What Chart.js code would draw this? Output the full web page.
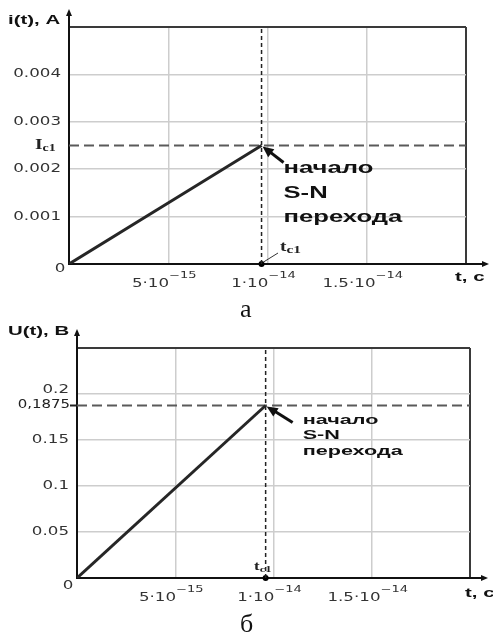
<!DOCTYPE html>
<html>
<head>
<meta charset="utf-8">
<script src="https://cdn.jsdelivr.net/npm/chart.js@4/dist/chart.umd.min.js"></script>
<style>
  body { margin: 0; background: #fff; width: 493px; height: 639px; position: relative; overflow: hidden; }
  canvas { position: absolute; left: 0; }
  #c1 { top: 0; }
  #c2 { top: 300px; }
  .cap { position: absolute; left: 240px; font-family: "Liberation Serif", serif; font-size: 26px; color: #111; line-height: 1; }
</style>
</head>
<body>
<canvas id="c1" width="493" height="300"></canvas>
<canvas id="c2" width="493" height="339"></canvas>
<div class="cap" style="top:296px">а</div>
<div class="cap" style="top:611px">б</div>
<script>
// time axis (shared)
const timeTicks = [0, 5e-15, 1e-14, 1.5e-14, 2e-14];
const timeTickBase = ['', '5·10', '1·10', '1.5·10', ''];
const timeTickExp = ['', '−15', '−14', '−14', ''];

// current, chart "а"
const currentTicks = [0, 0.001, 0.002, 0.003, 0.004, 0.005];
const currentTickLabels = ['0', '0.001', '0.002', '0.003', '0.004', ''];
const currentT = [0, 9.7e-15];
const currentI = [0, 0.0025];

// voltage, chart "б"
const voltageTicks = [0, 0.05, 0.1, 0.15, 0.2, 0.25];
const voltageTickLabels = ['0', '0.05', '0.1', '0.15', '0.2', ''];
const voltageT = [0, 9.6e-15];
const voltageU = [0, 0.1875];

const noteLines = ['начало', 'S-N', 'перехода'];

const tickFont = '11.5px "DejaVu Sans"';
const expFont = '9px "DejaVu Sans"';

// draws text stretched horizontally, like the scanned original
function sText(ctx, str, x, y, font, sx, align) {
  ctx.save();
  ctx.font = font;
  ctx.textBaseline = 'middle';
  const w = ctx.measureText(str).width * sx;
  const x0 = align === 'right' ? x - w : align === 'center' ? x - w / 2 : x;
  ctx.translate(x0, y);
  ctx.scale(sx, 1);
  ctx.textAlign = 'left';
  ctx.fillText(str, 0, 0);
  ctx.restore();
  return w;
}

function arrowHead(ctx, x, y, ang, len, half) {
  ctx.beginPath();
  ctx.moveTo(x, y);
  ctx.lineTo(x - len * Math.cos(ang) + half * Math.sin(ang), y - len * Math.sin(ang) - half * Math.cos(ang));
  ctx.lineTo(x - len * Math.cos(ang) - half * Math.sin(ang), y - len * Math.sin(ang) + half * Math.cos(ang));
  ctx.closePath();
  ctx.fill();
}

function build(id, t, v, yTicks, yLabels, look) {
  const tMax = timeTicks[timeTicks.length - 1];
  const yMax = yTicks[yTicks.length - 1];

  const decor = {
    id: 'decor',
    afterDraw(chart) {
      const { ctx, chartArea: a, scales: { x, y } } = chart;
      ctx.save();
      ctx.fillStyle = '#111';
      ctx.strokeStyle = '#111';
      ctx.lineWidth = 2;

      // axis arrows
      ctx.beginPath();
      ctx.moveTo(a.left, a.top);
      ctx.lineTo(a.left, look.yArrowTip + 4);
      ctx.moveTo(a.right, a.bottom);
      ctx.lineTo(look.xArrowTip - 4, a.bottom);
      ctx.stroke();
      arrowHead(ctx, a.left, look.yArrowTip, -Math.PI / 2, 7, 3);
      arrowHead(ctx, look.xArrowTip, a.bottom, 0, 7, 3);

      // axis titles
      sText(ctx, look.yTitle, look.yTitlePos[0], look.yTitlePos[1], 'bold 12px "Liberation Sans"', 1.7, 'left');
      sText(ctx, 't, c', look.tTitlePos[0], look.tTitlePos[1], 'bold 12px "Liberation Sans"', 1.7, 'left');

      // y tick labels
      ctx.fillStyle = '#333';
      yTicks.forEach((val, i) => {
        if (!yLabels[i]) return;
        if (val === 0) {
          sText(ctx, yLabels[i], look.zero[0], look.zero[1], tickFont, 1.45, 'center');
          return;
        }
        const py = y.getPixelForValue(val) + (look.yShift[yLabels[i]] || 0);
        sText(ctx, yLabels[i], look.yLabelRight, py, tickFont, 1.45, 'right');
      });

      // x tick labels with exponents
      timeTicks.forEach((val, i) => {
        if (!timeTickBase[i]) return;
        ctx.font = tickFont;
        const wb = ctx.measureText(timeTickBase[i]).width * 1.45;
        ctx.font = expFont;
        const we = ctx.measureText(timeTickExp[i]).width * 1.45;
        const x0 = x.getPixelForValue(val) - 4 - (wb + we) / 2;
        sText(ctx, timeTickBase[i], x0, look.xLabelY, tickFont, 1.45, 'left');
        sText(ctx, timeTickExp[i], x0 + wb, look.xLabelY - 8, expFont, 1.45, 'left');
      });

      const px = x.getPixelForValue(t[1]);
      const py = y.getPixelForValue(v[1]);

      // level label on the y axis
      ctx.fillStyle = '#222';
      if (look.levelSub) {
        const w = sText(ctx, look.level, look.levelX, py, 'bold 15px "Liberation Serif"', 1.3, 'left');
        sText(ctx, look.levelSub, look.levelX + w, py + 3, 'bold 10px "Liberation Serif"', 1.4, 'left');
      } else {
        sText(ctx, look.level, look.levelX, py, tickFont, 1.3, 'right');
        ctx.strokeStyle = '#222';
        ctx.beginPath();
        ctx.moveTo(look.levelX, py);
        ctx.lineTo(a.left, py);
        ctx.stroke();
      }

      // t_c1 label
      const tw = sText(ctx, 't', look.tcPos[0], look.tcPos[1], 'bold ' + look.tcSize + 'px "Liberation Serif"', 1.3, 'left');
      sText(ctx, 'c1', look.tcPos[0] + tw, look.tcPos[1] + 3, 'bold ' + Math.round(look.tcSize * 0.7) + 'px "Liberation Serif"', 1.4, 'left');
      if (look.tcLeader) {
        ctx.strokeStyle = '#333';
        ctx.lineWidth = 1;
        ctx.beginPath();
        ctx.moveTo(px + 2, a.bottom - 2);
        ctx.lineTo(look.tcPos[0] - 2, look.tcPos[1] + 6);
        ctx.stroke();
      }

      // annotation arrow to the start of the S-N transition
      ctx.strokeStyle = '#111';
      ctx.fillStyle = '#111';
      ctx.lineWidth = 3;
      const sx0 = px + look.arrowFrom[0];
      const sy0 = py + look.arrowFrom[1];
      const ang = Math.atan2(py - sy0, px - sx0);
      ctx.beginPath();
      ctx.moveTo(sx0, sy0);
      ctx.lineTo(px + 6 * Math.cos(ang + Math.PI), py + 6 * Math.sin(ang + Math.PI));
      ctx.stroke();
      arrowHead(ctx, px + 1, py + 1, ang, 11, 5);

      noteLines.forEach((s, k) => {
        sText(ctx, s, px + look.noteDx, py + look.noteDy[k], look.noteFont, look.noteSx, 'left');
      });
      ctx.restore();
    }
  };

  return new Chart(document.getElementById(id), {
    type: 'scatter',
    data: {
      datasets: [
        { data: t.map((tv, i) => ({ x: tv, y: v[i] })), showLine: true, borderColor: '#262626', borderWidth: 3, pointRadius: 0 },
        { data: [{ x: 0, y: v[1] }, { x: tMax, y: v[1] }], showLine: true, borderColor: '#5a5a5a', borderWidth: 2, borderDash: [10, 5], pointRadius: 0 },
        { data: [{ x: t[1], y: 0 }, { x: t[1], y: yMax }], showLine: true, borderColor: '#222', borderWidth: 1.5, borderDash: [4, 3], pointRadius: 0 },
        { data: [{ x: t[1], y: 0 }], pointRadius: 3, backgroundColor: '#000', borderWidth: 0, clip: false }
      ]
    },
    options: {
      responsive: false,
      animation: false,
      layout: { padding: look.padding, autoPadding: false },
      plugins: { legend: { display: false }, tooltip: { enabled: false } },
      scales: {
        x: {
          type: 'linear', min: 0, max: tMax,
          afterBuildTicks: s => { s.ticks = timeTicks.map(value => ({ value })); },
          ticks: { display: false },
          grid: {
            drawTicks: false,
            color: c => c.tick.value === tMax ? '#3a3a3a' : '#cdcdcd',
            lineWidth: c => c.tick.value === tMax ? 2 : 1.5
          },
          border: { color: '#111', width: 2 }
        },
        y: {
          type: 'linear', min: 0, max: yMax,
          afterBuildTicks: s => { s.ticks = yTicks.map(value => ({ value })); },
          ticks: { display: false },
          grid: {
            drawTicks: false,
            color: c => c.tick.value === yMax ? '#3a3a3a' : '#cdcdcd',
            lineWidth: c => c.tick.value === yMax ? 2 : 1.5
          },
          border: { color: '#111', width: 2 }
        }
      }
    },
    plugins: [decor]
  });
}

build('c1', currentT, currentI, currentTicks, currentTickLabels, {
  padding: { left: 69, right: 27, top: 27, bottom: 36 },
  yArrowTip: 9, xArrowTip: 489,
  yTitle: 'i(t), A', yTitlePos: [8, 21], tTitlePos: [455, 278],
  yLabelRight: 61, zero: [60, 269], yShift: {},
  xLabelY: 284,
  level: 'I', levelSub: 'c1', levelX: 35,
  tcPos: [280, 247], tcSize: 15, tcLeader: true,
  arrowFrom: [22, 17],
  noteDx: 22, noteDy: [23, 48, 72], noteFont: 'bold 16px "Liberation Sans"', noteSx: 1.6
});

build('c2', voltageT, voltageU, voltageTicks, voltageTickLabels, {
  padding: { left: 77, right: 23, top: 48, bottom: 61 },
  yArrowTip: 29, xArrowTip: 488,
  yTitle: 'U(t), B', yTitlePos: [8, 32], tTitlePos: [465, 294],
  yLabelRight: 69, zero: [68, 286], yShift: { '0.2': -4 },
  xLabelY: 298,
  level: '0,1875', levelSub: '', levelX: 70,
  tcPos: [254, 267], tcSize: 13, tcLeader: false,
  arrowFrom: [27, 17],
  noteDx: 37, noteDy: [15, 30, 46], noteFont: 'bold 12px "Liberation Sans"', noteSx: 1.8
});
</script>
</body>
</html>
